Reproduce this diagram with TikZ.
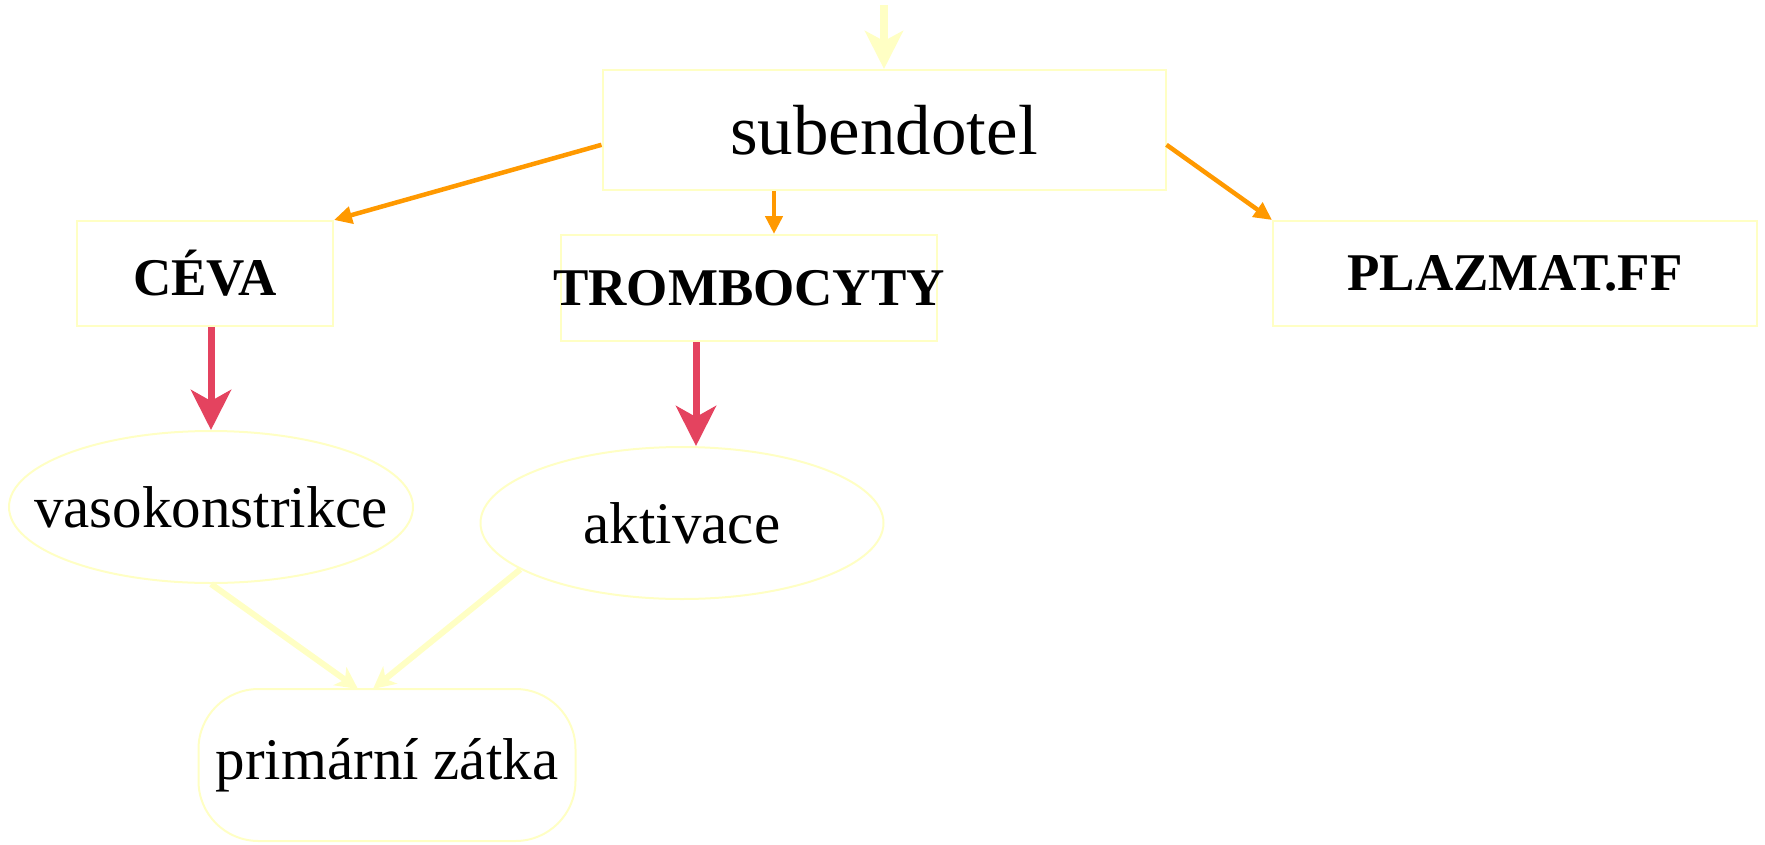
\documentclass[tikz,border=0pt]{standalone}
\usepackage{fontspec}
\setmainfont{Liberation Serif}
\usetikzlibrary{arrows.meta,shapes.geometric}
\definecolor{ylw}{HTML}{FFFFC4}
\definecolor{org}{HTML}{FF9900}
\definecolor{rd}{HTML}{E4435F}
\begin{document}
\begin{tikzpicture}[x=1pt,y=-1pt,
  box/.style={draw=ylw, line width=2pt, inner sep=0pt, rectangle},
  oval/.style={draw=ylw, line width=2pt, ellipse, inner sep=0pt},
  bigtxt/.style={font=\fontsize{71}{80}\selectfont},
  boldtxt/.style={font=\fontsize{53}{60}\selectfont\bfseries},
  midtxt/.style={font=\fontsize{59}{66}\selectfont},
  orgarrow/.style={draw=org, line width=4.5pt, -{Triangle[length=18pt,width=17pt]}},
  rdarrow/.style={draw=rd, line width=7pt, -{Stealth[length=40pt,width=40pt,inset=11pt]}},
  ylwarrow/.style={draw=ylw, line width=8pt, -{Stealth[length=38pt,width=38pt,inset=10pt]}},
  ylwthin/.style={draw=ylw, line width=6pt, -{Stealth[length=22pt,width=22pt,inset=6pt]}}]
\useasboundingbox (0,0) rectangle (1765,844);

\node[box, minimum width=563pt, minimum height=120pt, bigtxt] (sub) at (884,130) {subendotel};
\node[box, minimum width=256pt, minimum height=105pt, boldtxt] (ceva) at (205,273.5) {CÉVA};
\node[box, minimum width=376pt, minimum height=106pt, boldtxt] (tromb) at (749,288) {\makebox[0pt]{TROMBOCYTY}};
\node[box, minimum width=484pt, minimum height=105pt, boldtxt] (plaz) at (1515,273.5) {PLAZMAT.FF};
\node[oval, minimum width=404pt, minimum height=152pt, midtxt] (vaso) at (211,507) {\makebox[0pt]{vasokonstrikce}};
\node[oval, minimum width=403pt, minimum height=152pt, midtxt] (akt) at (682,523) {\makebox[0pt]{aktivace}};
\node[box, rounded corners=60pt, minimum width=377pt, minimum height=152pt, midtxt] (prim) at (387,765) {primární zátka};

\coordinate (top) at (884,5);
\coordinate (tx) at (774,0);
\coordinate (rx) at (696,0);
\coordinate (p1) at (358,689);
\coordinate (p2) at (373,689);

\draw[ylwarrow] (top) -- (sub.north);
\draw[orgarrow] (sub.183) -- (ceva.north east);
\draw[orgarrow] (tx |- sub.south) -- (tx |- tromb.north);
\draw[orgarrow] (sub.357) -- (plaz.north west);
\draw[rdarrow] (ceva.south -| vaso.north) -- (vaso.north);
\draw[rdarrow] (rx |- tromb.south) -- (rx |- akt.north);
\draw[ylwthin] (vaso.south) -- (p1);
\draw[ylwthin] (akt.196) -- (p2);
\end{tikzpicture}
\end{document}
